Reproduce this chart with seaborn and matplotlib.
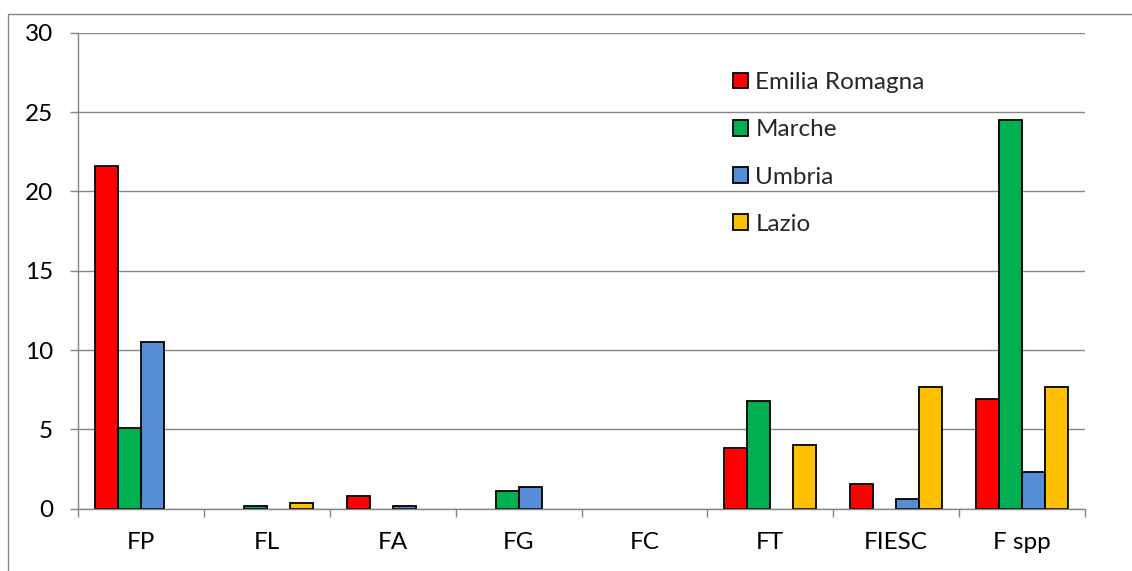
import matplotlib
matplotlib.use("Agg")
import matplotlib.pyplot as plt
import numpy as np
import pandas as pd
import seaborn as sns

categories = ['FP', 'FL', 'FA', 'FG', 'FC', 'FT', 'FIESC', 'F spp']
regions = ['Emilia Romagna', 'Marche', 'Umbria', 'Lazio']
emilia_romagna = [21.6, 0, 0.8, 0, 0, 3.85, 1.55, 6.95]
marche = [5.1, 0.15, 0, 1.1, 0, 6.8, 0, 24.5]
umbria = [10.5, 0, 0.15, 1.4, 0, 0, 0.6, 2.3]
lazio = [0, 0.35, 0, 0, 0, 4.0, 7.7, 7.7]
colors = ['#FF0000', '#00B050', '#558ED5', '#FFC000']

rows = []
for reg, vals in zip(regions, [emilia_romagna, marche, umbria, lazio]):
    for cat, v in zip(categories, vals):
        # empty cells are not drawn at all in the original
        rows.append({'cat': cat, 'region': reg, 'value': v if v > 0 else np.nan})
df = pd.DataFrame(rows)

sns.set_theme(style='white')
plt.rcParams['font.family'] = ['Lato', 'DejaVu Sans']

fig = plt.figure(figsize=(11.32, 5.71), dpi=100)
ax = fig.add_axes([78 / 1132, 1 - 508.8 / 571, (1085 - 78) / 1132, (508.8 - 32.7) / 571])

sns.barplot(data=df, x='cat', y='value', hue='region', order=categories,
            hue_order=regions, palette=colors, width=0.73, gap=0,
            edgecolor='black', linewidth=1.3, saturation=1, ax=ax)

ax.set_ylim(0, 30)
ax.set_xlim(-0.5, len(categories) - 0.5)
ax.set_yticks([0, 5, 10, 15, 20, 25, 30])
ax.yaxis.grid(True, color='#868686', linewidth=1.0)
ax.set_axisbelow(True)
ax.set_xlabel('')
ax.set_ylabel('')

for side in ['top', 'right']:
    ax.spines[side].set_visible(False)
for side in ['left', 'bottom']:
    ax.spines[side].set_color('#868686')
    ax.spines[side].set_linewidth(1.0)

# category ticks sit between groups, labels in the middle
ax.set_xticks(np.arange(len(categories)))
ax.set_xticklabels(categories)
ax.set_xticks(np.arange(len(categories) + 1) - 0.5, minor=True)
ax.tick_params(axis='x', which='major', length=0, pad=17, labelsize=17.5, colors='black')
ax.tick_params(axis='x', which='minor', bottom=True, length=6, width=1.0, color='#868686')
ax.tick_params(axis='y', left=True, length=6, width=1.0, color='#868686', pad=12,
               labelsize=17.5, labelcolor='black')

ax.legend(loc='upper left', bbox_to_anchor=(733 / 1132, 1 - 72 / 571),
          bbox_transform=fig.transFigure, frameon=False, fontsize=17.5,
          handlelength=0.62, handleheight=0.62, handletextpad=0.3,
          labelspacing=1.08, borderpad=0, borderaxespad=0)

# outer chart-area border (runs off the right and bottom edge)
fig.patches.append(plt.Rectangle((8 / 1132, -0.1), 1.2, 1 - 14 / 571 + 0.1,
                                 transform=fig.transFigure, fill=False,
                                 edgecolor='#868686', linewidth=1.0))

fig.savefig('out.png', dpi=100)
